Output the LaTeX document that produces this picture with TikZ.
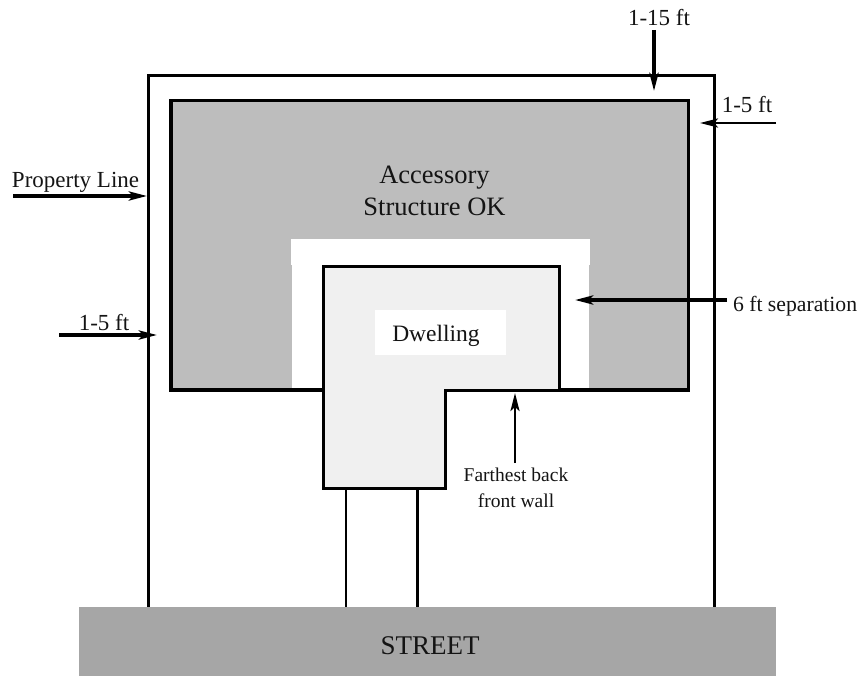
\documentclass[tikz,border=0pt]{standalone}
\usepackage{fontspec}
\setmainfont{Liberation Serif}
\usetikzlibrary{arrows.meta}
\tikzset{
  wall/.style={draw=black,line width=3.3pt,line join=miter},
  thinwall/.style={draw=black,line width=2.6pt},
  pointer/.style={draw=black,line width=#1,-{Stealth[length=18pt,width=9pt,inset=4pt]}},
  pointer/.default=3.4pt,
  lbl/.style={anchor=base,inner sep=0pt,outer sep=0pt,text=black!92,font=\fontsize{#1}{#1}\selectfont},
  lbl/.default=23
}
\begin{document}
\begin{tikzpicture}[x=1pt,y=-1pt]
\useasboundingbox (0,0) rectangle (863,677);
% lot and accessory zone
\draw[thinwall,line width=3pt,fill=white] (148,607) -- (148,75.5) -- (714,75.5) -- (714,607);
\draw[wall,fill=black!26] (171,100.5) rectangle (688.5,390);
% separation band
\fill[white] (291,239) rectangle (590,265);
\fill[white] (292,265) rectangle (589,388);
% dwelling
\draw[wall,line width=3pt,fill=black!6] (323,266) -- (559.5,266) -- (559.5,390) -- (445,390) -- (445,488) -- (323,488) -- cycle;
\node[fill=white,minimum width=131pt,minimum height=45pt,inner sep=0pt,anchor=north west] (dwellbox) at (375,310) {};
\node[lbl=23.5] (dwelling) at (436,341) {Dwelling};
% street and driveway
\coordinate (dl0) at (346,488); \coordinate (dl1) at (346,607);
\coordinate (dr0) at (417,488); \coordinate (dr1) at (417,607);
\draw[thinwall,line width=2.4pt] (dl0) -- (dl1);
\draw[thinwall,line width=3pt] (dr0) -- (dr1);
\node[fill=black!35,minimum width=697pt,minimum height=69pt,inner sep=0pt,anchor=north west] (street) at (79,607) {};
\node[lbl=27] (streetlabel) at (430,654) {STREET};
% labels
\node[lbl=26.5] (acc1) at (434.5,183) {Accessory};
\node[lbl=26.5] (acc2) at (434.5,215) {Structure OK};
\node[lbl=23,anchor=base west] (prop) at (12,187) {Property Line};
\node[lbl=23] (leftft) at (104,330) {1-5 ft};
\node[lbl=23] (topft) at (659,26) {1-15 ft};
\node[lbl=23] (rightft) at (747,113) {1-5 ft};
\node[lbl=21.7,anchor=base west] (sep) at (733,311) {6 ft separation};
\node[lbl=19.5] (far1) at (516,481) {Farthest back};
\node[lbl=19.5] (far2) at (516,507) {front wall};
% arrows
\coordinate (a1s) at (13,196); \coordinate (a1e) at (147,196);
\coordinate (a2s) at (59,335); \coordinate (a2e) at (157,335);
\coordinate (a3s) at (654,30); \coordinate (a3e) at (654,91);
\coordinate (a4s) at (776,123); \coordinate (a4e) at (700,123);
\coordinate (a5s) at (727,300); \coordinate (a5e) at (575,300);
\coordinate (a6s) at (515,463); \coordinate (a6e) at (515,393);
\draw[pointer=4pt] (a1s) -- (a1e);
\draw[pointer] (a2s) -- (a2e);
\draw[pointer=4pt] (a3s) -- (a3e);
\draw[pointer=2.6pt] (a4s) -- (a4e);
\draw[pointer=4pt] (a5s) -- (a5e);
\draw[pointer=2.6pt] (a6s) -- (a6e);
\end{tikzpicture}
\end{document}
